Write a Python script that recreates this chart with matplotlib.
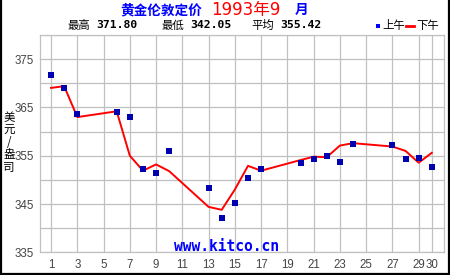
import matplotlib
matplotlib.use("Agg")
import matplotlib.pyplot as plt
from matplotlib.lines import Line2D

# ---- data ----
days = [1, 2, 3, 6, 7, 8, 9, 10, 13, 14, 15, 16, 17, 20, 21, 22, 23, 24, 27, 28, 29, 30]
am_price = [371.80, 369.1, 363.55, 364.15, 362.95, 352.2, 351.35, 355.9, 348.25, 342.05, 345.2,
            350.3, 352.2, 353.4, 354.25, 354.95, 353.6, 357.4, 357.15, 354.25, 354.45, 352.6]
pm_price = [369.05, 369.4, 363.0, 364.2, 355.0, 351.9, 353.2, 351.8, 344.4, 343.8, 348.0,
            352.9, 351.9, 354.1, 354.8, 354.7, 357.1, 357.6, 356.9, 356.0, 353.55, 355.6]
x_ticks = [1, 3, 5, 7, 9, 11, 13, 15, 17, 19, 21, 23, 25, 27, 29, 30]
y_ticks = [335, 345, 355, 365, 375]
stat_labels = ["最高", "最低", "平均"]
stat_values = ["371.80", "342.05", "355.42"]
legend_labels = ["上午", "下午"]
title_parts = ["黄金伦敦定价", "1993年9", "月"]
ylabel_chars = ["美", "元", "/", "盎", "司"]

CJK = ["Noto Sans CJK SC", "DejaVu Sans"]
W, H = 450, 275

fig = plt.figure(figsize=(4.5, 2.75), dpi=100)
fig.patch.set_facecolor("white")

def fx(px):
    return px / W

def fy(py):
    return 1 - py / H

ax = fig.add_axes([fx(39.5), fy(252.3), fx(444) - fx(39.5), fy(35) - fy(252.3)])
ax.set_facecolor("white")
ax.set_xlim(0.12, 30.93)
ax.set_ylim(335, 380)

ax.set_xticks(x_ticks)
ax.set_xticklabels([str(t) for t in x_ticks])
ax.set_yticks(y_ticks)
ax.set_yticks(list(range(335, 381, 5)), minor=True)
ax.grid(True, which="major", axis="x", color="#c0c0c0", lw=0.9)
ax.grid(True, which="both", axis="y", color="#c0c0c0", lw=0.9)
ax.tick_params(which="both", length=0)
ax.tick_params(axis="y", pad=4, labelsize=8.3, labelcolor="#444444")
ax.tick_params(axis="x", pad=5, labelsize=8.3, labelcolor="#444444")
for lab in ax.get_xticklabels() + ax.get_yticklabels():
    lab.set_family("Liberation Sans")
for s in ax.spines.values():
    s.set_color("#c0c0c0")
    s.set_linewidth(0.9)
ax.set_axisbelow(True)

ax.plot(days, pm_price, color="#ff0000", lw=1.4, zorder=3)
ax.plot(days, am_price, ls="none", marker="s", ms=4.3, mew=0, color="#0000b0", zorder=4)

# title
ty = fy(10)
fig.text(fx(120), ty, title_parts[0], color="#0000ff", fontsize=9.8, fontweight="bold",
         family=CJK, ha="left", va="center")
fig.text(fx(211), ty, title_parts[1], color="#ff0000", fontsize=12,
         family=["DejaVu Sans", "Noto Sans CJK SC"], ha="left", va="center")
fig.text(fx(295), ty, title_parts[2], color="#0000ff", fontsize=9.8, fontweight="bold",
         family=CJK, ha="left", va="center")

# stats line
sy = fy(25.5)
for xl, xv, lab, val in zip([68, 162, 251], [96, 190, 280], stat_labels, stat_values):
    fig.text(fx(xl), sy, lab, fontsize=8.2, family=CJK, ha="left", va="center", color="black")
    fig.text(fx(xv), sy, val, fontsize=8.2, family="DejaVu Sans Mono", fontweight="bold",
             ha="left", va="center", color="black")

# legend
fig.add_artist(Line2D([fx(378)], [sy], marker="s", ms=3.2, mew=0, color="#0000ff",
                      transform=fig.transFigure))
fig.text(fx(382), sy, legend_labels[0], fontsize=8.2, family=CJK, ha="left", va="center")
fig.add_artist(Line2D([fx(406), fx(414)], [sy, sy], color="#ff0000", lw=2,
                      transform=fig.transFigure))
fig.text(fx(416), sy, legend_labels[1], fontsize=8.2, family=CJK, ha="left", va="center")

# y label stacked, one character per row (single text object)
fig.text(fx(9), fy(142.5), "\n".join(ylabel_chars), fontsize=8.3, family=CJK,
         ha="center", va="center", linespacing=0.93, color="black")

# watermark
fig.text(fx(226), fy(246.5), "www.kitco.cn", fontsize=10.5, family="DejaVu Sans Mono",
         fontweight="bold", color="#0000ff", ha="center", va="center", zorder=10)

# border frame
for xs, ys in [([fx(1), fx(1)], [0, 1]), ([fx(449), fx(449)], [0, 1]), ([0, 1], [fy(274), fy(274)])]:
    fig.add_artist(Line2D(xs, ys, color="black", lw=1.6, transform=fig.transFigure))

fig.savefig("out.png", dpi=100, facecolor="white")
